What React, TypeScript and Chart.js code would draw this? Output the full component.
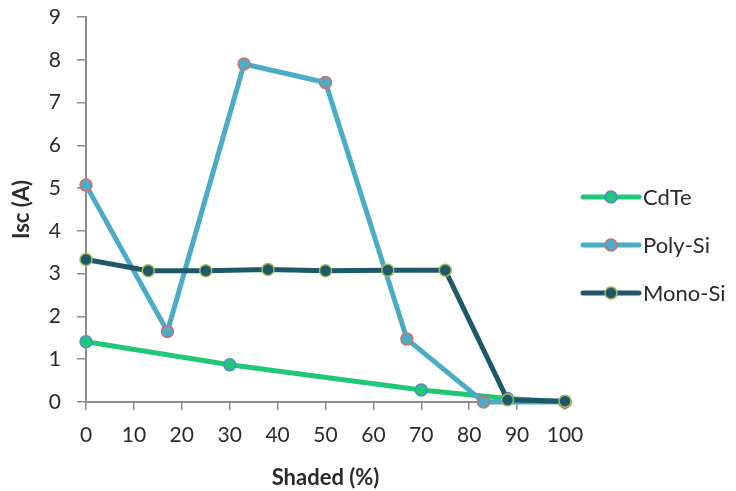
import React, { useEffect, useRef } from "react";
import { Chart, registerables } from "chart.js";

Chart.register(...registerables);

const seriesNames = ["CdTe", "Poly-Si", "Mono-Si"];

const cdteShaded = [0, 30, 70, 88, 100];
const cdteIsc = [1.41, 0.87, 0.28, 0.08, 0.0];

const polyShaded = [0, 17, 33, 50, 67, 83, 100];
const polyIsc = [5.07, 1.65, 7.9, 7.47, 1.47, 0.0, 0.0];

const monoShaded = [0, 13, 25, 38, 50, 63, 75, 88, 100];
const monoIsc = [3.33, 3.07, 3.07, 3.1, 3.07, 3.08, 3.08, 0.05, 0.02];

const xTitle = "Shaded (%)";
const yTitle = "Isc (A)";

const FONT = "Lato, 'Open Sans', sans-serif";
const TEXT = "#2b2b2b";
const AXIS = "#8c8c8c";

const toPoints = (xs: number[], ys: number[]) => xs.map((x, i) => ({ x, y: ys[i] }));

const legendPlugin = {
  id: "customLegend",
  afterDraw(chart: any) {
    const ctx = chart.ctx;
    const x0 = 583;
    const x1 = 639;
    const ys = [197, 245, 293];
    chart.data.datasets.forEach((ds: any, i: number) => {
      const y = ys[i];
      ctx.save();
      ctx.strokeStyle = ds.borderColor;
      ctx.lineWidth = 5;
      ctx.lineCap = "round";
      ctx.beginPath();
      ctx.moveTo(x0, y);
      ctx.lineTo(x1, y);
      ctx.stroke();
      ctx.beginPath();
      ctx.arc((x0 + x1) / 2, y, 6, 0, Math.PI * 2);
      ctx.fillStyle = ds.pointBackgroundColor;
      ctx.fill();
      ctx.lineWidth = 1.5;
      ctx.strokeStyle = ds.pointBorderColor;
      ctx.stroke();
      ctx.fillStyle = TEXT;
      ctx.font = `22px ${FONT}`;
      ctx.textBaseline = "middle";
      ctx.textAlign = "left";
      ctx.fillText(ds.label, 643, y + 1);
      ctx.restore();
    });
  },
};

export default function App() {
  const ref = useRef<HTMLCanvasElement | null>(null);
  useEffect(() => {
    document.body.style.margin = "0";
    const canvas = ref.current!;
    const common = {
      fill: false,
      borderWidth: 5,
      pointRadius: 6,
      pointHoverRadius: 6,
      pointBorderWidth: 1.5,
      tension: 0,
      clip: false as any,
    };
    const chart = new Chart(canvas, {
      type: "line",
      data: {
        datasets: [
          {
            ...common,
            label: seriesNames[0],
            data: toPoints(cdteShaded, cdteIsc),
            borderColor: "#1ec878",
            pointBackgroundColor: "#1ec878",
            pointBorderColor: "#5a86d0",
            order: 3,
          },
          {
            ...common,
            label: seriesNames[1],
            data: toPoints(polyShaded, polyIsc),
            borderColor: "#4bacc6",
            pointBackgroundColor: "#4bacc6",
            pointBorderColor: "#d0706c",
            order: 2,
          },
          {
            ...common,
            label: seriesNames[2],
            data: toPoints(monoShaded, monoIsc),
            borderColor: "#1f5868",
            pointBackgroundColor: "#1f5868",
            pointBorderColor: "#9bbb59",
            order: 1,
          },
        ],
      },
      options: {
        responsive: false,
        animation: false,
        layout: { padding: { left: 0, top: 17, right: 171, bottom: 0 } },
        plugins: {
          legend: { display: false },
          tooltip: { enabled: false },
        },
        scales: {
          x: {
            type: "linear",
            min: 0,
            max: 100,
            ticks: {
              stepSize: 10,
              padding: 13,
              color: TEXT,
              font: { family: FONT, size: 21 },
              maxRotation: 0,
            },
            grid: {
              display: true,
              drawOnChartArea: false,
              drawTicks: true,
              tickLength: 8,
              color: AXIS,
              lineWidth: 1.5,
            },
            border: { display: true, color: AXIS, width: 2 },
            title: {
              display: true,
              text: xTitle,
              color: TEXT,
              font: { family: FONT, size: 22, weight: "bold" },
              padding: { top: 0, bottom: 0 },
            },
            afterFit: (s: any) => {
              s.height = 89;
              s.paddingLeft = 0;
              s.paddingRight = 0;
            },
          },
          y: {
            type: "linear",
            min: 0,
            max: 9,
            ticks: {
              stepSize: 1,
              padding: 16,
              color: TEXT,
              font: { family: FONT, size: 21 },
            },
            grid: {
              display: true,
              drawOnChartArea: false,
              drawTicks: true,
              tickLength: 9,
              color: AXIS,
              lineWidth: 1.5,
            },
            border: { display: true, color: AXIS, width: 2 },
            title: {
              display: true,
              text: yTitle,
              color: TEXT,
              font: { family: FONT, size: 22, weight: "bold" },
              padding: { top: 9, bottom: 0 },
            },
            afterFit: (s: any) => {
              s.width = 86;
              s.paddingTop = 0;
              s.paddingBottom = 0;
            },
          },
        },
      },
      plugins: [legendPlugin],
    });
    return () => chart.destroy();
  }, []);
  return (
    <div style={{ width: 736, height: 491, background: "#fff" }}>
      <canvas ref={ref} width={736} height={491} style={{ display: "block" }} />
    </div>
  );
}
